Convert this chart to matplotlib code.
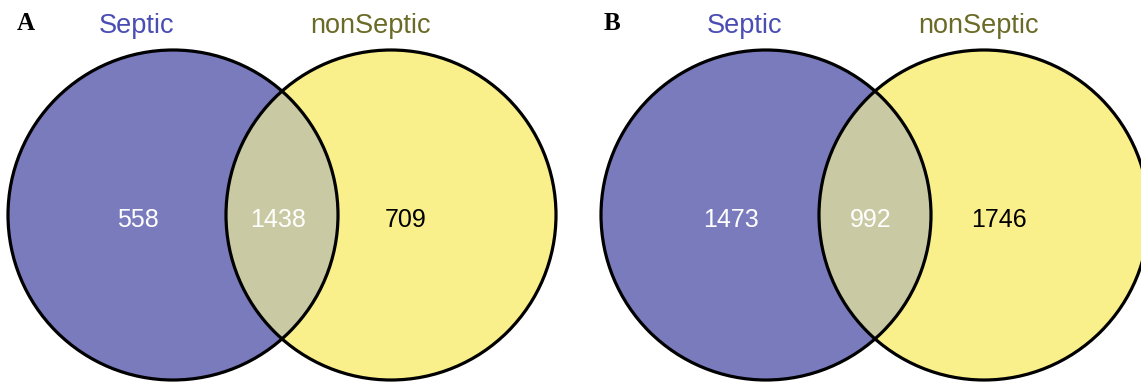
import matplotlib.pyplot as plt
from matplotlib.patches import Circle

# overlap counts for each comparison: [Septic only, shared, nonSeptic only]
panels = ['A', 'B']
set_names = ['Septic', 'nonSeptic']
counts_a = [558, 1438, 709]
counts_b = [1473, 992, 1746]

blue = '#7a7bbd'
yellow = '#f9ef8b'
both = '#c9caa3'
name_colors = ['#4a4db2', '#6b6b28']

fig = plt.figure(figsize=(11.41, 3.85), dpi=100)
ax = fig.add_axes([0, 0, 1, 1])
ax.set_xlim(0, 1141)
ax.set_ylim(385, 0)
ax.axis('off')

r = 165          # circle radius (px)
sep = 218        # distance between centres
cy = 215


def venn(x0, letter, letter_x, counts, name_dx):
    cx1, cx2 = x0, x0 + sep
    left = Circle((cx1, cy), r, facecolor=blue, edgecolor='none')
    right = Circle((cx2, cy), r, facecolor=yellow, edgecolor='none')
    ax.add_patch(left)
    ax.add_patch(right)
    # shared area: left circle redrawn, clipped to the right circle
    lens = Circle((cx1, cy), r, facecolor=both, edgecolor='none')
    ax.add_patch(lens)
    lens.set_clip_path(right)
    for c in (cx1, cx2):
        ax.add_patch(Circle((c, cy), r, fill=False, edgecolor='black', lw=2.3))

    mid = (cx1 + cx2) / 2
    num_x = [cx1 - 35, mid - 4, cx2 + 15]
    num_c = ['white', 'white', 'black']
    for x, n, c in zip(num_x, counts, num_c):
        ax.text(x, 227, str(n), ha='center', va='baseline', color=c,
                fontsize=18, family='Liberation Sans')

    for x, name, c in zip([cx1 - 37 + name_dx, cx2 - 21 + name_dx], set_names, name_colors):
        ax.text(x, 33, name, ha='center', va='baseline', color=c,
                fontsize=19.5, family='Liberation Sans')

    ax.text(letter_x, 30, letter, ha='center', va='baseline',
            fontsize=18, fontweight='bold', family='Liberation Serif')


venn(173, panels[0], 26, counts_a, 0)
venn(766, panels[1], 612, counts_b, 15)

fig.savefig('out.png', dpi=100)
